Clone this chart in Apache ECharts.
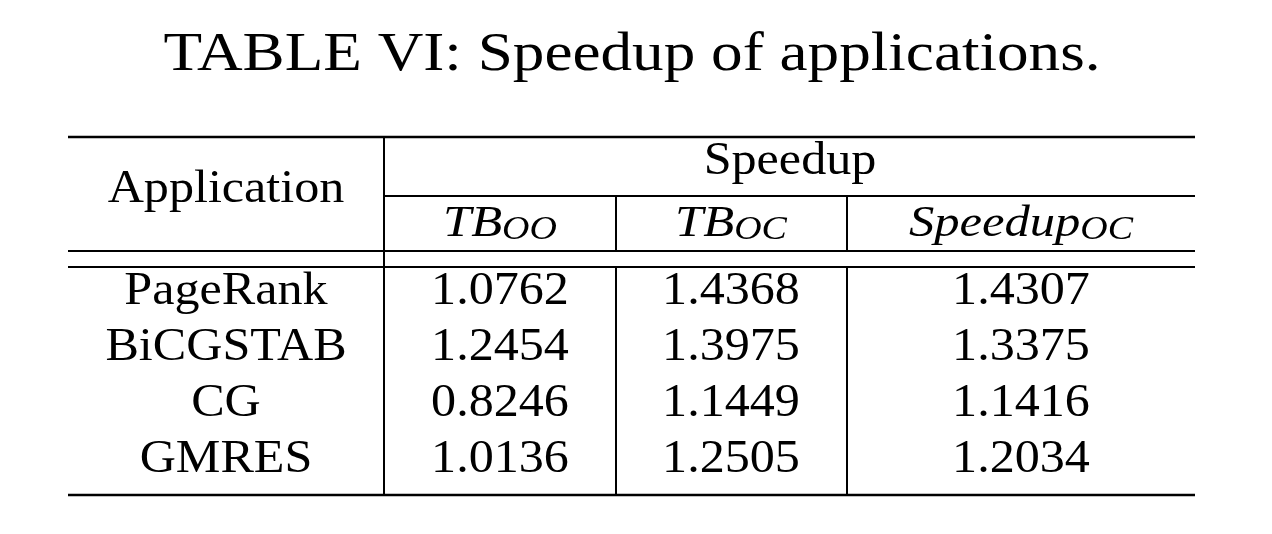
<!DOCTYPE html>
<html><head><meta charset="utf-8">
<script src="https://cdn.jsdelivr.net/npm/echarts@6/dist/echarts.min.js"></script>
<style>html,body{margin:0;padding:0;background:#fff}#c{width:1272px;height:534px}</style>
</head><body><div id="c"></div>
<script>
const title = "TABLE VI: Speedup of applications.";
const applications = ["PageRank","BiCGSTAB","CG","GMRES"];
const tbOO = ["1.0762","1.2454","0.8246","1.0136"];
const tbOC = ["1.4368","1.3975","1.1449","1.2505"];
const speedupOC = ["1.4307","1.3375","1.1416","1.2034"];
const subHeaders = [["TB","OO"],["TB","OC"],["Speedup","OC"]];

const F = "'Liberation Serif','DejaVu Serif',serif";
const colX = [226, 500, 731, 1021];
const rowY = [292, 348, 404, 460];
const els = [];
function txt(x,y,s,size,sx){els.push({type:'text',x:x,y:y,scaleX:sx||1.09,style:{text:s,font:size+'px '+F,fill:'#000',textAlign:'center',textVerticalAlign:'middle'}});}
function line(x1,y1,x2,y2,w){els.push({type:'line',shape:{x1,y1,x2,y2},style:{stroke:'#000',lineWidth:w||2}});}
txt(632,56,title,54,1.17);
line(68,137,1195,137,2.5);
line(384,196,1195,196,2);
line(68,251,1195,251,2);
line(68,267,1195,267,2);
line(68,495,1195,495,2.5);
line(384,137,384,495,2);
line(616,196,616,251,2); line(616,267,616,495,2);
line(847,196,847,251,2); line(847,267,847,495,2);
txt(226,190,"Application",46);
txt(790,162,"Speedup",46);
subHeaders.forEach((h,i)=>{
  els.push({type:'text',x:colX[i+1],y:222,scaleX:1.15,style:{text:'{m|'+h[0]+'}{s|'+h[1]+'}',textAlign:'center',textVerticalAlign:'middle',
    rich:{m:{font:'italic 44px '+F,fill:'#000',verticalAlign:'bottom'},s:{font:'italic 33px '+F,fill:'#000',padding:[16,0,0,0],verticalAlign:'bottom'}}}});
});
applications.forEach((a,r)=>{
  txt(colX[0],rowY[r],a,46);
  txt(colX[1],rowY[r],tbOO[r],46);
  txt(colX[2],rowY[r],tbOC[r],46);
  txt(colX[3],rowY[r],speedupOC[r],46);
});
const chart = echarts.init(document.getElementById('c'));
chart.setOption({backgroundColor:'#fff',graphic:{elements:els}});
</script></body></html>
